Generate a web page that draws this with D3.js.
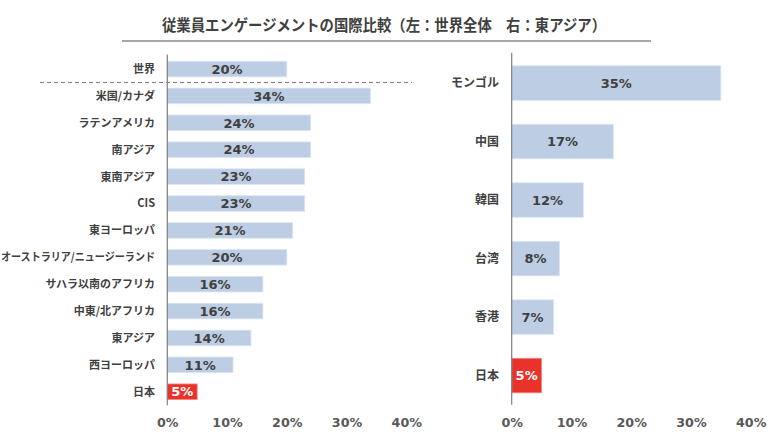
<!DOCTYPE html>
<html><head><meta charset="utf-8">
<script src="https://cdn.jsdelivr.net/npm/d3@7"></script>
<style>
body{margin:0;background:#fff;}
text{font-family:"Noto Sans CJK JP","Noto Sans",sans-serif;font-weight:bold;}
</style></head>
<body><svg id="c" width="780" height="443"></svg>
<script>
const title = "従業員エンゲージメントの国際比較（左：世界全体　右：東アジア）";
const leftCategories = ["世界","米国/カナダ","ラテンアメリカ","南アジア","東南アジア","CIS","東ヨーロッパ","オーストラリア/ニュージーランド","サハラ以南のアフリカ","中東/北アフリカ","東アジア","西ヨーロッパ","日本"];
const leftValues = [20,34,24,24,23,23,21,20,16,16,14,11,5];
const rightCategories = ["モンゴル","中国","韓国","台湾","香港","日本"];
const rightValues = [35,17,12,8,7,5];
const tickValues = [0,10,20,30,40];
const highlight = "日本";

const svg = d3.select("#c");
const barColor = "#bccde4", redColor = "#e8322a", textColor = "#404040", tickColor = "#595959";
const numFont = '"DejaVu Sans","Noto Sans",sans-serif';

// title
svg.append("text").attr("x",384).attr("y",31).attr("text-anchor","middle")
  .attr("font-size",15.5).attr("fill",textColor).attr("textLength",444).attr("lengthAdjust","spacingAndGlyphs").text(title);
svg.append("line").attr("x1",122).attr("x2",651).attr("y1",41).attr("y2",41)
  .attr("stroke","#a6a6a6").attr("stroke-width",2);

function panel(cats, vals, x0, yRange, padding, labelX, labelSize) {
  const x = d3.scaleLinear().domain([0,40]).range([x0, x0+239]);
  const y = d3.scaleBand().domain(cats).range(yRange).paddingInner(padding).paddingOuter(padding/2);
  const g = svg.append("g");
  g.selectAll("rect").data(cats).join("rect")
    .attr("x", x(0)).attr("y", d=>y(d)).attr("width", (d,i)=>x(vals[i])-x(0)).attr("height", y.bandwidth())
    .attr("fill", d=> d===highlight ? redColor : barColor)
    .attr("stroke", d=> d===highlight ? "#f28a84" : "#dce6f2").attr("stroke-width",0.8);
  g.selectAll("text.v").data(cats).join("text").attr("class","v")
    .attr("x", (d,i)=> (x(0)+x(vals[i]))/2).attr("y", d=>y(d)+y.bandwidth()/2).attr("dy","0.36em")
    .attr("text-anchor","middle").attr("font-size",13)
    .style("font-family",numFont)
    .attr("fill", d=> d===highlight ? "#fff" : textColor)
    .text((d,i)=> vals[i]+"%");
  g.selectAll("text.c").data(cats).join("text").attr("class","c")
    .attr("x", labelX).attr("y", d=>y(d)+y.bandwidth()/2).attr("dy","0.36em")
    .attr("text-anchor","end").attr("font-size",labelSize).attr("fill",textColor)
    .text(d=>d)
    .each(function(){
      const w = this.getComputedTextLength();
      const maxW = labelX - 1;
      if (w > maxW) d3.select(this).attr("textLength", maxW).attr("lengthAdjust","spacingAndGlyphs");
    });
  g.append("line").attr("x1",x(0)).attr("x2",x(0)).attr("y1",yRange[0]-1).attr("y2",yRange[1])
    .attr("stroke","#7f7f7f").attr("stroke-width",1.2);
  const ax = d3.axisBottom(x).tickValues(tickValues).tickFormat(d=>d+"%").tickSize(0).tickPadding(0);
  const axg = g.append("g").attr("transform",`translate(0,${yRange[1]+13})`).call(ax);
  axg.select(".domain").remove();
  axg.selectAll("text").attr("font-size",12.7).attr("fill",tickColor)
     .style("font-family",numFont).style("font-weight","bold");
  return {x,y};
}

const L = panel(leftCategories, leftValues, 167.3, [55.6,405.2], 0.42, 155, 11);
// dashed separator under 世界
const sepY = (L.y(leftCategories[0]) + L.y.bandwidth() + L.y(leftCategories[1]))/2;
svg.append("line").attr("x1",40).attr("x2",412).attr("y1",sepY).attr("y2",sepY)
  .attr("stroke","#7f7f7f").attr("stroke-width",1).attr("stroke-dasharray","4,3");

panel(rightCategories, rightValues, 511.7, [53.8,404.8], 0.41, 499, 12);
</script></body></html>
